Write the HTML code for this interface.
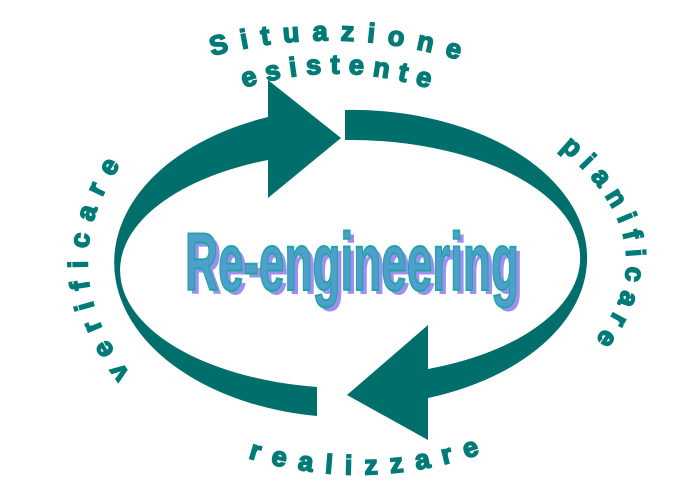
<!DOCTYPE html>
<html><head><meta charset="utf-8"><style>
html,body{margin:0;padding:0;background:#fff;}
svg{display:block;}
.t{font-family:"Liberation Sans",Arial,sans-serif;font-weight:bold;font-size:27px;fill:#007a76;stroke:#007a76;stroke-width:1.6px;}
</style></head><body>
<svg width="700" height="500" viewBox="0 0 700 500" xmlns="http://www.w3.org/2000/svg">
<defs>
<path id="p1" d="M212,56 Q338,22 466,62"/>
<path id="p2" d="M244,88 Q336,58 434,90"/>
<path id="p3" d="M560,148 Q688,255 570,368"/>
<path id="p4" d="M130,374 Q42,258 136,144"/>
<path id="p5" d="M248,458 Q366,494 486,452"/>
</defs>
<path d="M317,416 A235,155 0 0 1 268,117 L268,80 L341,138 L268,198 L268,160 A230,118 0 0 0 317,387 Z" fill="#006f6c"/>
<path d="M345,110 A235,148 0 0 1 428,398 L428,440 L347,395 L428,325 L428,369 A230,118 0 0 0 345,140 Z" fill="#006f6c"/>
<text class="t"><textPath href="#p1" textLength="250" lengthAdjust="spacing">Situazione</textPath></text>
<text class="t"><textPath href="#p2" textLength="188" lengthAdjust="spacing">esistente</textPath></text>
<text class="t"><textPath href="#p3" textLength="222" lengthAdjust="spacing">pianificare</textPath></text>
<text class="t"><textPath href="#p4" textLength="226" lengthAdjust="spacing">verificare</textPath></text>
<text class="t"><textPath href="#p5" textLength="236" lengthAdjust="spacing">realizzare</textPath></text>
<g font-family="'Liberation Sans',Arial,sans-serif" font-weight="bold" font-size="82">
<text x="189" y="294" textLength="334" lengthAdjust="spacingAndGlyphs" fill="#9d8ff2">Re-engineering</text>
<text x="185" y="290" textLength="334" lengthAdjust="spacingAndGlyphs" fill="#4f9fcc" stroke="#1fa5a2" stroke-width="2">Re-engineering</text>
</g>
</svg>
</body></html>
